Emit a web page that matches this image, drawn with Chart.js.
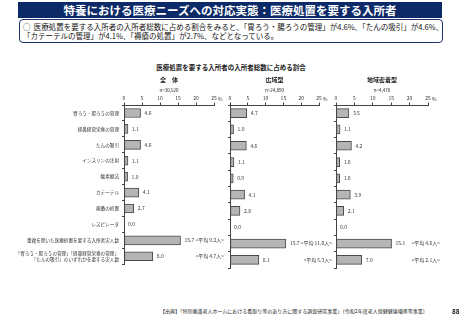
<!DOCTYPE html>
<html>
<head>
<meta charset="utf-8">
<script src="https://cdn.jsdelivr.net/npm/chart.js"></script>
<style>
body { margin:0; width:462px; height:320px; position:relative; background:#fff; overflow:hidden;
  font-family:"Noto Sans CJK JP", sans-serif; }
#banner { position:absolute; left:18px; top:2px; width:424px; height:16px; background:#0c2a68; color:#fff;
  font-weight:bold; font-size:11.5px; line-height:16px; text-align:center; }
#box { position:absolute; left:19px; top:19px; width:424px; height:24px; border:1.5px solid #1d3370; border-radius:4px;
  box-sizing:border-box; font-size:7.5px; line-height:9.5px; padding:1.5px 0 0 3px; color:#111; white-space:nowrap; }
#ctitle { position:absolute; left:0; width:462px; top:62px; text-align:center; font-size:6.5px; font-weight:bold; color:#222; }
#source { position:absolute; left:160px; top:307px; font-size:5px; color:#222; white-space:nowrap; }
#page { position:absolute; left:452px; top:306px; font-size:6.5px; font-weight:bold; color:#222; }
canvas { position:absolute; top:70px; }
</style>
</head>
<body>
<div id="banner">特養における医療ニーズへの対応実態：医療処置を要する入所者</div>
<div id="box">○&nbsp; 医療処置を要する入所者の入所者総数に占める割合をみると、「胃ろう・腸ろうの管理」が4.6%、「たんの吸引」が4.6%、<br>「カテーテルの管理」が4.1%、「褥瘡の処置」が2.7%、などとなっている。</div>
<div id="ctitle">医療処置を要する入所者の入所者総数に占める割合</div>

<canvas id="c1" width="226" height="200" style="left:0px"></canvas>
<canvas id="c2" width="110" height="200" style="left:226px"></canvas>
<canvas id="c3" width="116" height="200" style="left:330px"></canvas>

<div id="source">【出典】「特別養護老人ホームにおける看取り等のあり方に関する調査研究事業」（令和2年度老人保健健康増進等事業）</div>
<div id="page">88</div>

<script>
const categories = [
  '胃ろう・腸ろうの管理',
  '経鼻経管栄養の管理',
  'たんの吸引',
  'インスリンの注射',
  '酸素療法',
  'カテーテル',
  '褥瘡の処置',
  'レスピレータ',
  '重複を除いた医療処置を要する入所者実人数',
  ['「胃ろう・腸ろうの管理」「経鼻経管栄養の管理」', '「たんの吸引」のいずれかを要する実人数']
];

const totalValues = [4.6, 1.1, 4.6, 1.1, 1.0, 4.1, 2.7, 0.0, 15.7, 8.0];
const wideValues  = [4.7, 1.0, 4.6, 1.1, 0.9, 4.1, 2.8, 0.0, 15.7, 8.1];
const localValues = [3.5, 1.1, 4.2, 1.0, 1.0, 3.9, 2.1, 0.0, 15.1, 7.0];

const totalNotes = ['', '', '', '', '', '', '', '', '<平均 9.2人>', '<平均 4.7人>'];
const wideNotes  = ['', '', '', '', '', '', '', '', '<平均 11.0人>', '<平均 5.3人>'];
const localNotes = ['', '', '', '', '', '', '', '', '<平均 4.6人>', '<平均 2.1人>'];

const xTicks = [0, 5, 10, 15, 20, 25];

const FONT = '"Noto Sans CJK JP", sans-serif';

// draws value labels, averages, panel header and the % after 25
function panelText(name, count, notes, noteRight) {
  return {
    id: 'panelText',
    afterDatasetsDraw(chart) {
      const ctx = chart.ctx;
      const meta = chart.getDatasetMeta(0);
      const data = chart.data.datasets[0].data;
      const area = chart.chartArea;
      ctx.save();
      ctx.fillStyle = '#333';
      ctx.textBaseline = 'middle';
      ctx.font = '5px ' + FONT;
      meta.data.forEach((bar, i) => {
        ctx.textAlign = 'left';
        ctx.fillText(data[i].toFixed(1), bar.x + 4, bar.y);
        if (notes[i]) {
          ctx.textAlign = 'right';
          ctx.fillText(notes[i], noteRight, bar.y);
        }
      });
      const xs = chart.scales.x;
      ctx.textAlign = 'left';
      ctx.fillText('%', xs.getPixelForValue(25) + 4, area.top - 6);

      const cx = (area.left + area.right) / 2;
      ctx.textAlign = 'center';
      ctx.fillStyle = '#222';
      ctx.font = 'bold 6px ' + FONT;
      ctx.fillText(name, cx, area.top - 25);
      ctx.font = '4.5px ' + FONT;
      ctx.fillText(count, cx, area.top - 15);
      ctx.restore();
    }
  };
}

function makeChart(id, values, name, count, notes, noteRight, yWidth, padRight, showLabels) {
  return new Chart(id, {
    type: 'bar',
    data: {
      labels: categories,
      datasets: [{
        data: values,
        backgroundColor: '#b5b5b5',
        borderColor: '#4a4a4a',
        borderWidth: 1,
        borderSkipped: false,
        barThickness: 9
      }]
    },
    options: {
      indexAxis: 'y',
      responsive: false,
      animation: false,
      layout: { padding: { top: 26, right: padRight, bottom: 2, left: 0 } },
      plugins: { legend: { display: false }, tooltip: { enabled: false } },
      scales: {
        x: {
          position: 'top',
          min: 0, max: 25,
          afterBuildTicks: (axis) => { axis.ticks = xTicks.map(v => ({ value: v })); },
          afterFit: (axis) => { axis.height = 9; },
          grid: { drawOnChartArea: false, drawTicks: true, tickLength: 2.5, color: '#444' },
          border: { color: '#444', width: 1 },
          ticks: { font: { size: 5, family: FONT }, color: '#333', padding: 1, maxRotation: 0 }
        },
        y: {
          afterFit: (axis) => { axis.width = yWidth; },
          grid: { drawOnChartArea: false, drawTicks: true, tickLength: 2, color: '#444' },
          border: { color: '#444', width: 1 },
          ticks: { display: showLabels, font: { size: 4.6, family: FONT }, color: '#333', padding: 3, autoSkip: false }
        }
      }
    },
    plugins: [panelText(name, count, notes, noteRight)]
  });
}

makeChart('c1', totalValues, '全　体', 'n=30,520', totalNotes, 224, 124, 12, true);
makeChart('c2', wideValues, '広域型', 'n=24,890', wideNotes, 106, 4, 17, false);
makeChart('c3', localValues, '地域密着型', 'n=4,478', localNotes, 110, 6, 18, false);
</script>
</body>
</html>
